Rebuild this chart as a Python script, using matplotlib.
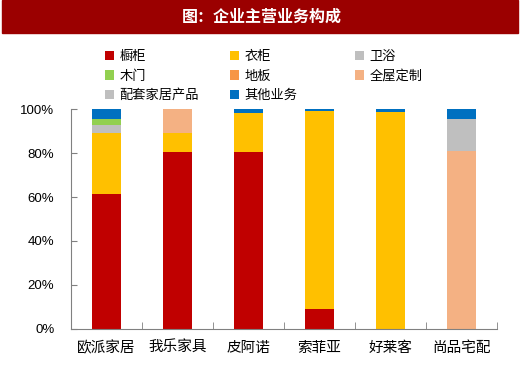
import numpy as np
import matplotlib.pyplot as plt
from matplotlib.patches import Rectangle

plt.rcParams['font.family'] = ['Noto Sans CJK SC', 'DejaVu Sans']

companies = ['欧派家居', '我乐家具', '皮阿诺', '索菲亚', '好莱客', '尚品宅配']
segments = ['橱柜', '衣柜', '卫浴', '木门', '地板', '全屋定制', '配套家居产品', '其他业务']
colors = ['#C00000', '#FFC000', '#BFBFBF', '#92D050', '#F79646', '#F4B183', '#BFBFBF', '#0070C0']

# share of revenue, %
cabinet = [61.3, 80.7, 80.4, 9.0, 0.0, 0.0]
wardrobe = [28.0, 8.3, 17.8, 90.4, 98.9, 0.0]
bathroom = [3.4, 0.0, 0.0, 0.0, 0.0, 0.0]
door = [3.0, 0.0, 0.0, 0.0, 0.0, 0.0]
floor = [0.0, 0.0, 0.0, 0.0, 0.0, 0.0]
custom = [0.0, 11.0, 0.0, 0.0, 0.0, 81.1]
furnishing = [0.0, 0.0, 0.0, 0.0, 0.0, 14.6]
other = [4.3, 0.0, 1.8, 0.6, 1.1, 4.3]
series = [cabinet, wardrobe, bathroom, door, floor, custom, furnishing, other]

fig = plt.figure(figsize=(5.2, 3.76), dpi=100)

# title banner
fig.patches.append(Rectangle((2 / 520, 1 - 33 / 376), 516 / 520, 33 / 376,
                             transform=fig.transFigure, color='#9B0000', zorder=0))
fig.text(0.503, 1 - 17 / 376, '图：企业主营业务构成', color='white', fontsize=11.5,
         fontweight='bold', ha='center', va='center')

ax = fig.add_axes([71 / 520, 1 - 328.7 / 376, 426 / 520, 219.4 / 376])
x = np.arange(len(companies))
bottom = np.zeros(len(companies))
handles = []
for name, vals, c in zip(segments, series, colors):
    v = np.array(vals) / 100
    h = ax.bar(x, v, 0.4, bottom=bottom, color=c, label=name)
    handles.append(h)
    bottom += v

ax.set_xlim(-0.5, len(companies) - 0.5)
ax.set_ylim(0, 1)
ticks = np.arange(0, 1.01, 0.2)
ax.set_yticks(ticks)
ax.set_yticklabels([f'{int(round(t * 100))}%' for t in ticks],
                   family=['Liberation Sans', 'DejaVu Sans'], fontsize=9.5)
ax.set_xticks(x)
ax.set_xticklabels(companies, fontsize=10.5)
ax.set_xticks(np.arange(-0.5, len(companies)), minor=True)
ax.tick_params(axis='x', which='major', length=0, pad=9)
ax.tick_params(axis='x', which='minor', direction='in', length=5, color='#808080')
ax.tick_params(axis='y', direction='in', length=4, color='#808080', pad=12)
for s in ['top', 'right']:
    ax.spines[s].set_visible(False)
for s in ['left', 'bottom']:
    ax.spines[s].set_color('#808080')

# legend laid out in a grid of three equal columns, filled row by row
columns = [[0, 3, 6], [1, 4, 7], [2, 5]]
col_x = [105, 230, 355]
for idx, cx in zip(columns, col_x):
    fig.legend(handles=[handles[i] for i in idx], labels=[segments[i] for i in idx],
               loc='upper left', bbox_to_anchor=(cx / 520, 1 - 50 / 376),
               frameon=False, fontsize=9.5, handlelength=0.7, handleheight=0.7,
               handletextpad=0.4, labelspacing=0.5, borderpad=0, borderaxespad=0)

fig.savefig('out.png', dpi=100)
